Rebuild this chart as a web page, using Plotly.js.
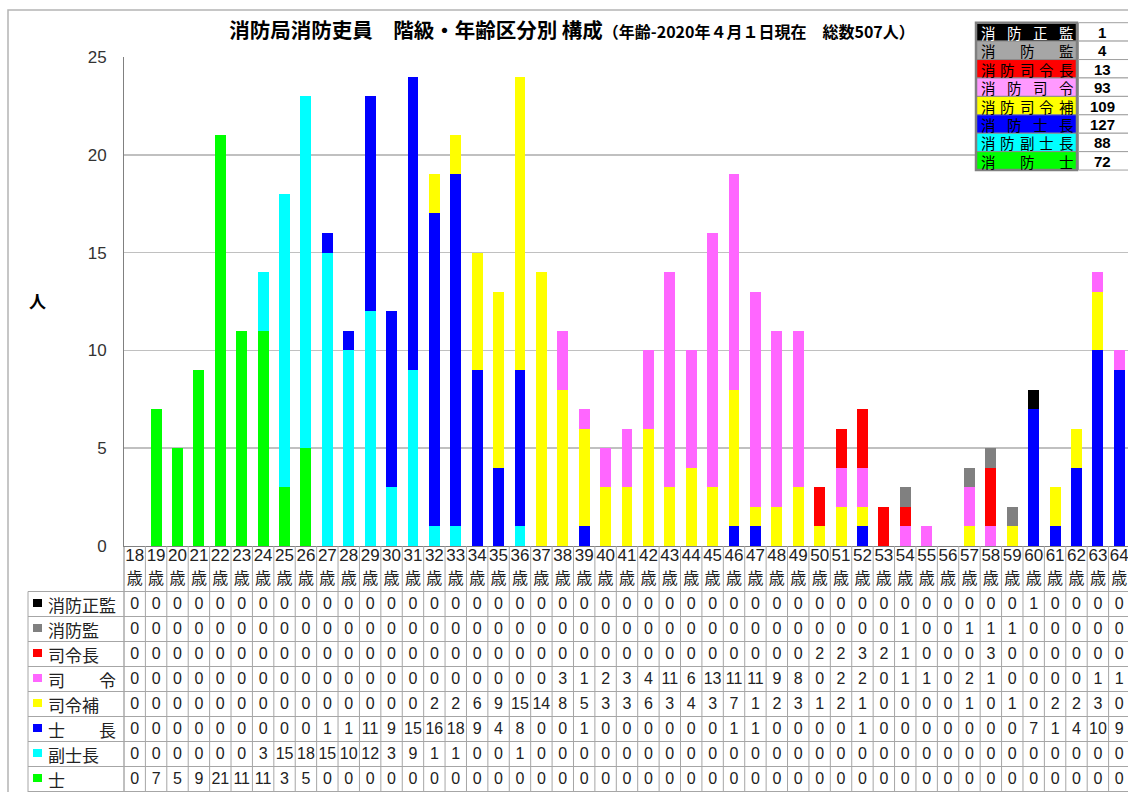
<!DOCTYPE html>
<html><head><meta charset="utf-8">
<script src="https://cdn.plot.ly/plotly-3.0.1.min.js"></script>
<style>html,body{margin:0;padding:0;overflow:hidden;background:#fff;} #chart{width:1140px;height:792px;}</style>
</head><body><div id="chart"></div>
<script>
// ---- data ----
const ages = [18,19,20,21,22,23,24,25,26,27,28,29,30,31,32,33,34,35,36,37,38,39,40,41,42,43,44,45,46,47,48,49,50,51,52,53,54,55,56,57,58,59,60,61,62,63,64];
const ageUnit = '歳';
//                18-27                        28-37                        38-47                         48-57                      58-64
const shi         = [0,7,5,9,21,11,11,3,5,0,   0,0,0,0,0,0,0,0,0,0,        0,0,0,0,0,0,0,0,0,0,          0,0,0,0,0,0,0,0,0,0,       0,0,0,0,0,0,0];
const fukushicho  = [0,0,0,0,0,0,3,15,18,15,   10,12,3,9,1,1,0,0,1,0,      0,0,0,0,0,0,0,0,0,0,          0,0,0,0,0,0,0,0,0,0,       0,0,0,0,0,0,0];
const shicho      = [0,0,0,0,0,0,0,0,0,1,      1,11,9,15,16,18,9,4,8,0,    0,1,0,0,0,0,0,0,1,1,          0,0,0,0,1,0,0,0,0,0,       0,0,7,1,4,10,9];
const shireiho    = [0,0,0,0,0,0,0,0,0,0,      0,0,0,0,2,2,6,9,15,14,      8,5,3,3,6,3,4,3,7,1,          2,3,1,2,1,0,0,0,0,1,       0,1,0,2,2,3,0];
const shirei      = [0,0,0,0,0,0,0,0,0,0,      0,0,0,0,0,0,0,0,0,0,        3,1,2,3,4,11,6,13,11,11,      9,8,0,2,2,0,1,1,0,2,       1,0,0,0,0,1,1];
const shireicho   = [0,0,0,0,0,0,0,0,0,0,      0,0,0,0,0,0,0,0,0,0,        0,0,0,0,0,0,0,0,0,0,          0,0,2,2,3,2,1,0,0,0,       3,0,0,0,0,0,0];
const shobokan    = [0,0,0,0,0,0,0,0,0,0,      0,0,0,0,0,0,0,0,0,0,        0,0,0,0,0,0,0,0,0,0,          0,0,0,0,0,0,1,0,0,1,       1,1,0,0,0,0,0];
const shoboseikan = [0,0,0,0,0,0,0,0,0,0,      0,0,0,0,0,0,0,0,0,0,        0,0,0,0,0,0,0,0,0,0,          0,0,0,0,0,0,0,0,0,0,       0,0,1,0,0,0,0];

// table order (top -> bottom)
const seriesValues = [shoboseikan, shobokan, shireicho, shirei, shireiho, shicho, fukushicho, shi];
const tableLabels  = ['消防正監','消防監','司令長','司　　令','司令補','士　　長','副士長','士'];
const legendLabels = ['消防正監','消防監','消防司令長','消防司令','消防司令補','消防士長','消防副士長','消防士'];
const barColors    = ['#000000','#808080','#ff0000','#ff66ff','#ffff00','#0000ff','#00ffff','#00ff00'];
const legendBg     = ['#000000','#a6a6a6','#ff0000','#ff99ff','#ffff00','#0000ff','#00ffff','#00ff00'];
const legendFg     = ['#ffffff','#000000','#000000','#000000','#000000','#000000','#000000','#000000'];
const titleMain = '消防局消防吏員　階級・年齢区分別 構成';
const titleSub  = '（年齢-2020年４月１日現在　総数507人）';
const yTitle = '人';

// ---- geometry ----
const W = 1140, H = 792, ML = 124, MT = 57, PW = 1006;
const PH = H - MT;
const BASE = 546;               // pixel of y=0
const yDom = (H - BASE) / PH;
const px2x = p => (p - ML) / PW;
const py2y = p => (H - p) / PH;
const ROW0 = 45.5, ROWH = 25;   // table rows, offsets below BASE

const categories = ages.map(a => a + ageUnit);
const CJK = '"Noto Sans CJK JP", "Noto Sans CJK SC", sans-serif';
const LAT = '"Liberation Sans", Arial, sans-serif';

const traces = [];
// bars, bottom to top
for (let k = seriesValues.length - 1; k >= 0; k--) {
  traces.push({
    type: 'bar', x: categories, y: seriesValues[k], name: legendLabels[k],
    marker: {color: barColors[k], line: {width: 0}},
    xaxis: 'x', yaxis: 'y', hoverinfo: 'x+y+name'
  });
}
// category labels
traces.push({type:'scatter', mode:'text', x: categories, y: categories.map(() => 11),
  text: ages.map(String), textfont:{family: LAT, size: 17, color:'#222'},
  xaxis:'x', yaxis:'y2', hoverinfo:'skip', cliponaxis:false});
traces.push({type:'scatter', mode:'text', x: categories, y: categories.map(() => 34),
  text: ages.map(() => ageUnit), textfont:{family: CJK, size: 16, color:'#222'},
  xaxis:'x', yaxis:'y2', hoverinfo:'skip', cliponaxis:false});
// table values
seriesValues.forEach((vals, k) => {
  traces.push({type:'scatter', mode:'text', x: categories,
    y: categories.map(() => ROW0 + ROWH * (k + 0.5) + 0.5),
    text: vals.map(String), textfont:{family: LAT, size: 16, color:'#222'},
    xaxis:'x', yaxis:'y2', hoverinfo:'skip', cliponaxis:false});
});

const shapes = [];
const annotations = [];
const GRID = '#a6a6a6';
// outer frame
shapes.push({type:'rect', xref:'paper', yref:'paper', x0:px2x(8), x1:px2x(1200), y0:py2y(800), y1:py2y(10),
  line:{color:'#b4b4b4', width:1.5}, layer:'below'});
// table vertical lines
for (let i = 1; i < categories.length; i++) {
  shapes.push({type:'line', xref:'x', yref:'y2', x0:i-0.5, x1:i-0.5, y0:0, y1:246, line:{color:GRID, width:1}});
}
shapes.push({type:'line', xref:'paper', yref:'y2', x0:0, x1:0, y0:0, y1:246, line:{color:'#808080', width:1}});
shapes.push({type:'line', xref:'paper', yref:'y2', x0:px2x(28), x1:px2x(28), y0:ROW0, y1:246, line:{color:GRID, width:1}});
for (let k = 0; k <= seriesValues.length; k++) {
  const y = ROW0 + ROWH * k;
  shapes.push({type:'line', xref:'paper', yref:'y2', x0:px2x(28), x1:1.02, y0:y, y1:y, line:{color:GRID, width:1}});
}
// table row labels + swatches
tableLabels.forEach((lab, k) => {
  const top = ROW0 + ROWH * k;
  shapes.push({type:'rect', xref:'paper', yref:'y2', x0:px2x(33), x1:px2x(42), y0:top+7.5, y1:top+15.5,
    fillcolor: barColors[k], line:{width:0}});
  annotations.push({xref:'paper', yref:'y2', x:px2x(46), y:top + ROWH/2 + 0.5, xanchor:'left', yanchor:'middle',
    text: lab, showarrow:false, font:{family: CJK, size:17, color:'#222'}});
});
// legend box
const LT = 22.7, LH = 18.42, LX0 = 976, LX1 = 1077, LX2 = 1140;
legendLabels.forEach((lab, k) => {
  const y0 = LT + LH * k, y1 = y0 + LH;
  shapes.push({type:'rect', xref:'paper', yref:'paper', x0:px2x(LX0), x1:px2x(LX1), y0:py2y(y1), y1:py2y(y0),
    fillcolor: legendBg[k], line:{color:'#8c8c8c', width:1}});
  shapes.push({type:'rect', xref:'paper', yref:'paper', x0:px2x(LX1+1.5), x1:px2x(LX2), y0:py2y(y1), y1:py2y(y0),
    fillcolor: '#ffffff', line:{color:'#a0a0a0', width:1}});
  const chars = Array.from(lab);
  const cl = 988.5, cr = 1066;
  chars.forEach((ch, i) => {
    const cx = chars.length > 1 ? cl + i * (cr - cl) / (chars.length - 1) : cl;
    annotations.push({xref:'paper', yref:'paper', x:px2x(cx), y:py2y((y0+y1)/2 + 0.5), xanchor:'center', yanchor:'middle',
      text: ch, showarrow:false, borderpad:0, font:{family: CJK, size:14.5, color: legendFg[k]}});
  });
  const total = seriesValues[k].reduce((a, b) => a + b, 0);
  annotations.push({xref:'paper', yref:'paper', x:px2x(1102), y:py2y((y0+y1)/2 + 0.5), xanchor:'center', yanchor:'middle',
    text: '<b>' + total + '</b>', showarrow:false, borderpad:0, font:{family: LAT, size:15, color:'#000'}});
});
shapes.push({type:'rect', xref:'paper', yref:'paper', x0:px2x(LX0), x1:px2x(LX1), y0:py2y(LT + LH*8), y1:py2y(LT),
  line:{color:'#808080', width:2.5}});
// y title
annotations.push({xref:'paper', yref:'paper', x:px2x(37), y:py2y(300), xanchor:'center', yanchor:'middle',
  text:'<b>' + yTitle + '</b>', showarrow:false, font:{family: CJK, size:17, color:'#000'}});

const layout = {
  width: W, height: H,
  margin: {l: ML, r: W - ML - PW, t: MT, b: 0, pad: 0},
  paper_bgcolor: '#fff', plot_bgcolor: '#fff',
  showlegend: false, barmode: 'stack', bargap: 0.49,
  title: {
    text: '<b>' + titleMain + '<span style="font-size:16px">' + titleSub + '</span></b>',
    x: 572 / W, xref: 'container', xanchor: 'center',
    y: 1 - 31 / H, yref: 'container', yanchor: 'middle',
    font: {family: CJK, size: 20.5, color: '#000'}
  },
  xaxis: {type:'category', range:[-0.5, categories.length - 0.5], showticklabels:false, ticks:'',
    showline:true, linecolor:'#808080', linewidth:1, showgrid:false, zeroline:false, anchor:'y', fixedrange:true},
  yaxis: {domain:[yDom, 1], range:[0, 25], dtick:5, tick0:0, showgrid:true, gridcolor:'#c0c0c0', gridwidth:1.5,
    showline:true, linecolor:'#808080', linewidth:1, zeroline:false, ticks:'', ticklabelstandoff: 13,
    tickfont:{family: LAT, size:17, color:'#333'}, fixedrange:true},
  yaxis2: {domain:[0, yDom], range:[246, 0], visible:false, showgrid:false, zeroline:false, fixedrange:true},
  shapes: shapes,
  annotations: annotations
};

Plotly.newPlot('chart', traces, layout, {displayModeBar:false, staticPlot:true});
</script>
</body></html>
